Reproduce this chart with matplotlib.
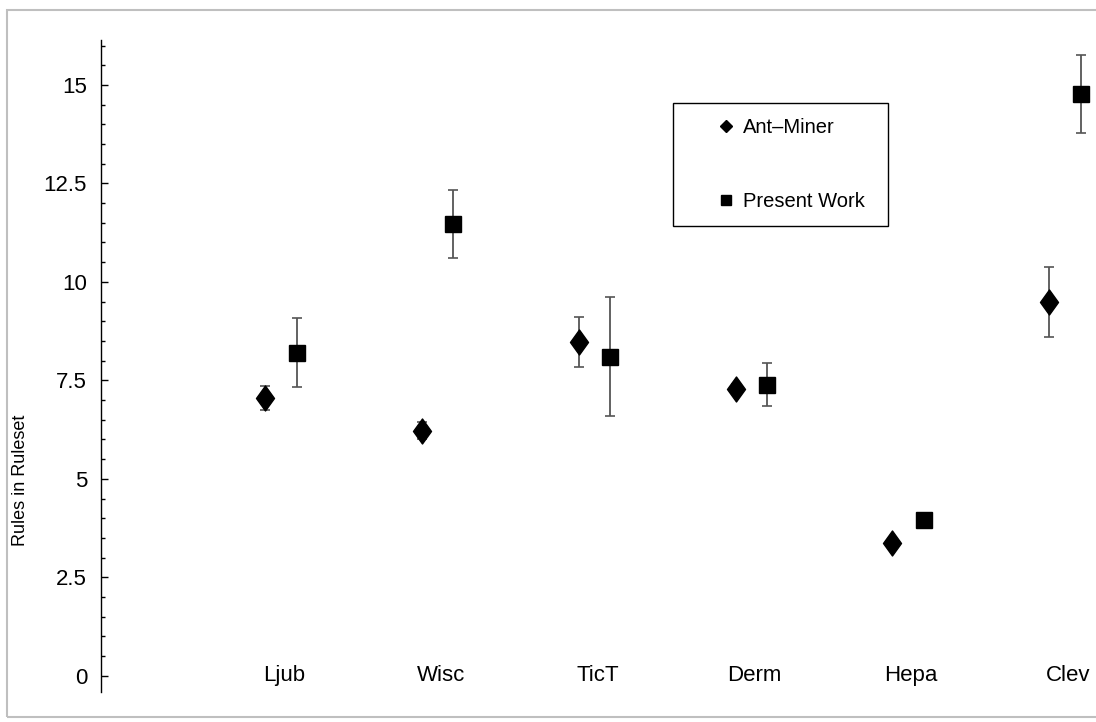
import matplotlib
matplotlib.use('Agg')
import matplotlib.pyplot as plt
from matplotlib.lines import Line2D
from matplotlib.patches import Rectangle
from matplotlib.path import Path
from matplotlib.ticker import MultipleLocator

plt.rcParams['font.family'] = ['Liberation Sans', 'DejaVu Sans']

# 规则集大小：Ant-Miner vs 本文方法
datasets = ["Ljub", "Wisc", "TicT", "Derm", "Hepa", "Clev"]
ant_miner = [7.06, 6.22, 8.48, 7.28, 3.38, 9.49]
ant_miner_err = [0.30, 0.22, 0.63, 0.12, 0.10, 0.88]
present_work = [8.20, 11.47, 8.10, 7.39, 3.96, 14.77]
present_work_err = [0.88, 0.87, 1.51, 0.54, 0.10, 0.98]
y_ticks = [0, 2.5, 5, 7.5, 10, 12.5, 15]
y_tick_labels = ["0", "2.5", "5", "7.5", "10", "12.5", "15"]

W, H = 1096, 722
fig = plt.figure(figsize=(W / 100, H / 100), dpi=100)
ax = fig.add_axes([101 / W, 30 / H, 989 / W, 652 / H])

# 细长菱形
diamond = Path([(0, 1), (0.72, 0), (0, -1), (-0.72, 0), (0, 1)],
               [Path.MOVETO, Path.LINETO, Path.LINETO, Path.LINETO, Path.CLOSEPOLY])

pos = list(range(1, len(datasets) + 1))
x_ant = [p - 0.1 for p in pos]
x_pw = [p + 0.1 for p in pos]

ax.errorbar(x_ant, ant_miner, yerr=ant_miner_err, fmt='none', ecolor='#555555',
            elinewidth=1.3, capsize=3.5, capthick=1.2, zorder=2)
ax.errorbar(x_pw, present_work, yerr=present_work_err, fmt='none', ecolor='#555555',
            elinewidth=1.3, capsize=3.5, capthick=1.2, zorder=2)
ax.plot(x_ant, ant_miner, linestyle='none', marker=diamond, markersize=18,
        color='black', zorder=3)
ax.plot(x_pw, present_work, linestyle='none', marker='s', markersize=12.2,
        color='black', zorder=3)

ax.set_xlim(-0.148, 6.16)
ax.set_ylim(-0.41, 16.14)

ax.set_yticks(y_ticks)
ax.set_yticklabels(y_tick_labels)
ax.yaxis.set_minor_locator(MultipleLocator(0.5))
ax.tick_params(axis='y', which='major', direction='in', length=5, width=1,
               labelsize=16, pad=10)
ax.tick_params(axis='y', which='minor', direction='in', length=3, width=1)

# 类别名写在 y=0 的高度上，不画横轴
ax.set_xticks([])
for p, name in zip(pos, datasets):
    ax.text(p + 0.02, 0, name, ha='center', va='center', fontsize=16)

for s in ['top', 'right', 'bottom']:
    ax.spines[s].set_visible(False)
ax.spines['left'].set_linewidth(1)

ax.set_ylabel("Rules in Ruleset", fontsize=13)
ax.yaxis.set_label_coords(-0.073, 0.324)

# 图例：外框单独画，条目不带边框
handles = [
    Line2D([], [], linestyle='none', marker='D', markersize=6.5, color='black'),
    Line2D([], [], linestyle='none', marker='s', markersize=7, color='black'),
]
ax.legend(handles, ["Ant\u2013Miner", "Present Work"], loc='upper left',
          bbox_to_anchor=(714 / W, 1 - 118 / H), bbox_transform=fig.transFigure,
          borderaxespad=0, borderpad=0, fontsize=14.5, labelspacing=2.75,
          handlelength=1.2, handletextpad=0.25, frameon=False)
fig.patches.append(Rectangle((673 / W, 1 - 226 / H), 215 / W, 123 / H,
                             transform=fig.transFigure, fill=False,
                             edgecolor='black', linewidth=1))

# 外框
fig.patches.append(Rectangle((7 / W, 1 - 717 / H), 1100 / W, 707 / H,
                             transform=fig.transFigure, fill=False,
                             edgecolor='#bfbfbf', linewidth=1.5))

fig.savefig("out.png", dpi=100)
